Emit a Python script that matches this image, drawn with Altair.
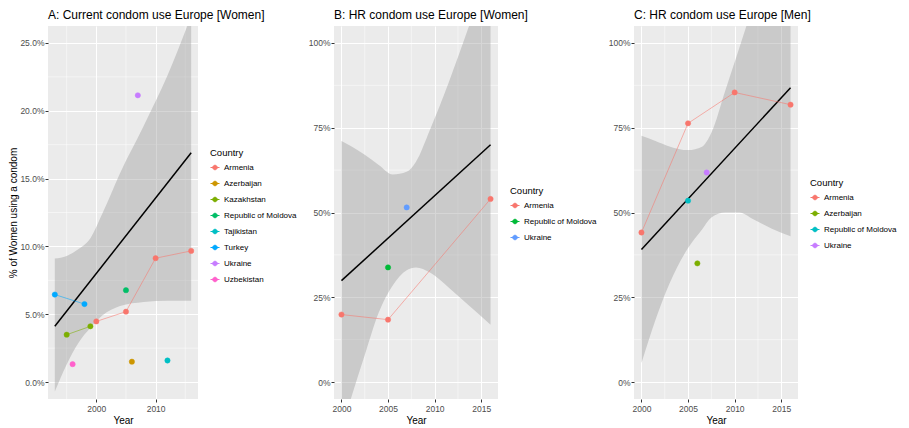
import altair as alt
import pandas as pd

FONT = "Liberation Sans"

# ---------------- Panel A: Current condom use Europe [Women] ----------------
a_country = ["Turkey", "Turkey", "Kazakhstan", "Kazakhstan", "Uzbekistan",
             "Armenia", "Armenia", "Armenia", "Armenia",
             "Republic of Moldova", "Azerbaijan", "Tajikistan", "Ukraine"]
a_year = [1993, 1998, 1995, 1999, 1996, 2000, 2005, 2010, 2016, 2005, 2006, 2012, 2007]
a_value = [0.0645, 0.0575, 0.0349, 0.0411, 0.0132, 0.0447, 0.0519, 0.0913, 0.0967,
           0.0677, 0.0150, 0.0159, 0.2114]
a_fit_year = [1993, 2016]
a_fit_value = [0.0412, 0.169]
a_band_year = [1993, 1995, 1997, 1999, 2001, 2004, 2008, 2012, 2016]
a_band_low = [-0.007, 0.013, 0.029, 0.040, 0.049, 0.056, 0.059, 0.060, 0.060]
a_band_high = [0.091, 0.093, 0.098, 0.106, 0.124, 0.154, 0.189, 0.226, 0.270]
a_countries = ["Armenia", "Azerbaijan", "Kazakhstan", "Republic of Moldova",
               "Tajikistan", "Turkey", "Ukraine", "Uzbekistan"]
a_colors = ["#F8766D", "#CD9600", "#7CAE00", "#00BE67", "#00BFC4", "#00A9FF",
            "#C77CFF", "#FF61CC"]

# ---------------- Panel B: HR condom use Europe [Women] ----------------
b_country = ["Armenia", "Armenia", "Armenia", "Republic of Moldova", "Ukraine"]
b_year = [2000, 2005, 2016, 2005, 2007]
b_value = [0.199, 0.184, 0.540, 0.338, 0.515]
b_fit_year = [2000, 2016]
b_fit_value = [0.299, 0.700]
b_band_year = [2000, 2001, 2002.5, 2004, 2005.5, 2007, 2008, 2009.5, 2011.5, 2013.5, 2016]
b_band_low = [-0.14, -0.05, 0.08, 0.205, 0.285, 0.330, 0.338, 0.323, 0.279, 0.230, 0.169]
b_band_high = [0.711, 0.696, 0.670, 0.640, 0.612, 0.620, 0.650, 0.744, 0.883, 1.035, 1.24]
b_countries = ["Armenia", "Republic of Moldova", "Ukraine"]
b_colors = ["#F8766D", "#00BA38", "#619CFF"]

# ---------------- Panel C: HR condom use Europe [Men] ----------------
c_country = ["Armenia", "Armenia", "Armenia", "Armenia", "Republic of Moldova",
             "Ukraine", "Azerbaijan"]
c_year = [2000, 2005, 2010, 2016, 2005, 2007, 2006]
c_value = [0.441, 0.763, 0.854, 0.818, 0.535, 0.618, 0.350]
c_fit_year = [2000, 2016]
c_fit_value = [0.391, 0.868]
c_band_year = [2000, 2001.5, 2003, 2005, 2006.5, 2007.5, 2009, 2010.5, 2012, 2014, 2016]
c_band_low = [0.056, 0.183, 0.290, 0.395, 0.450, 0.485, 0.500, 0.500, 0.480, 0.452, 0.430]
c_band_high = [0.726, 0.711, 0.695, 0.684, 0.694, 0.735, 0.860, 0.985, 1.11, 1.24, 1.37]
c_countries = ["Armenia", "Azerbaijan", "Republic of Moldova", "Ukraine"]
c_colors = ["#F8766D", "#7CAE00", "#00BFC4", "#C77CFF"]

LEGEND_PATH = "M-1,0L1,0M-0.5,0A0.5,0.5,0,1,1,0.5,0A0.5,0.5,0,1,1,-0.5,0Z"

W_A, W_BC, H = 150, 164, 373


def panel(country, year, value, fit_year, fit_value, band_year, band_low, band_high,
          countries, colors, xdom, ydom, xticks, xminor, yticks, yminor, yfmt,
          title, ytitle, width, legend_y):
    pts = pd.DataFrame({"Country": country, "Year": year, "Value": value})
    fit = pd.DataFrame({"Year": fit_year, "Value": fit_value})
    band = pd.DataFrame({"Year": band_year, "Lower": band_low, "Upper": band_high})
    mx = pd.DataFrame({"Year": xminor})
    my = pd.DataFrame({"Value": yminor})

    xs = alt.Scale(domain=xdom, nice=False, zero=False)
    ys = alt.Scale(domain=ydom, nice=False, zero=False)
    xax = alt.Axis(values=xticks, format="d", labelFlush=False, titlePadding=3, labelPadding=2)
    if ytitle:
        yax = alt.Axis(values=yticks, format=yfmt, titlePadding=1)
    else:
        yax = alt.Axis(values=yticks, format=yfmt)

    def X(field="Year"):
        return alt.X(f"{field}:Q", scale=xs, axis=xax, title="Year")

    def Y(field="Value"):
        return alt.Y(f"{field}:Q", scale=ys, axis=yax, title=ytitle)

    cscale = alt.Scale(domain=countries, range=colors)
    leg = alt.Legend(title="Country", orient="none", legendX=width + 12, legendY=legend_y,
                     symbolType=LEGEND_PATH, symbolSize=81, symbolStrokeWidth=1,
                     symbolOpacity=1,
                     titleFontSize=9.5, titleFont=FONT, titleFontWeight="normal",
                     titleColor="black", titlePadding=5, labelFontSize=8, labelFont=FONT,
                     labelColor="black", rowPadding=6, labelOffset=4)

    minor_x = alt.Chart(mx).mark_rule(color="white", strokeWidth=0.5).encode(x=X())
    minor_y = alt.Chart(my).mark_rule(color="white", strokeWidth=0.5).encode(y=Y())
    area = alt.Chart(band).mark_area(color="#999999", opacity=0.4, interpolate="monotone",
                                     clip=True).encode(
        x=X(), y=Y("Lower"), y2=alt.Y2("Upper:Q"))
    fitline = alt.Chart(fit).mark_line(color="black", strokeWidth=1.5, clip=True).encode(
        x=X(), y=Y())
    lines = alt.Chart(pts).mark_line(strokeWidth=1, strokeOpacity=0.55).encode(
        x=X(), y=Y(), detail="Country:N",
        stroke=alt.Stroke("Country:N", scale=cscale, legend=leg),
        order="Year:Q")
    points = alt.Chart(pts).mark_point(filled=True, size=28, opacity=1, strokeWidth=0.5).encode(
        x=X(), y=Y(),
        fill=alt.Fill("Country:N", scale=cscale, legend=leg),
        stroke=alt.Stroke("Country:N", scale=cscale, legend=leg))

    return alt.layer(minor_x, minor_y, area, fitline, lines, points).properties(
        width=width, height=H,
        title=alt.TitleParams(text=title, anchor="start", frame="group", fontSize=12,
                              font=FONT, fontWeight="normal", color="black", offset=4))


pa = panel(a_country, a_year, a_value, a_fit_year, a_fit_value, a_band_year, a_band_low,
           a_band_high, a_countries, a_colors, [1991.85, 2017.15], [-0.0125, 0.2625],
           [2000, 2010], [1995, 2005, 2015],
           [0, 0.05, 0.10, 0.15, 0.20, 0.25], [0.025, 0.075, 0.125, 0.175, 0.225], ".1%",
           "A: Current condom use Europe [Women]", "% of Women using a condom", W_A, 122)
pb = panel(b_country, b_year, b_value, b_fit_year, b_fit_value, b_band_year, b_band_low,
           b_band_high, b_countries, b_colors, [1999.2, 2016.8], [-0.05, 1.05],
           [2000, 2005, 2010, 2015], [2002.5, 2007.5, 2012.5],
           [0, 0.25, 0.5, 0.75, 1.0], [0.125, 0.375, 0.625, 0.875], ".0%",
           "B: HR condom use Europe [Women]", None, W_BC, 160)
pc = panel(c_country, c_year, c_value, c_fit_year, c_fit_value, c_band_year, c_band_low,
           c_band_high, c_countries, c_colors, [1999.2, 2016.8], [-0.05, 1.05],
           [2000, 2005, 2010, 2015], [2002.5, 2007.5, 2012.5],
           [0, 0.25, 0.5, 0.75, 1.0], [0.125, 0.375, 0.625, 0.875], ".0%",
           "C: HR condom use Europe [Men]", None, W_BC, 152)

chart = alt.hconcat(pa, pb, pc, spacing=11).resolve_scale(
    fill="independent", stroke="independent",
    x="independent", y="independent"
).resolve_legend(fill="independent", stroke="independent").properties(
    padding={"left": 0, "top": 0, "right": 0, "bottom": 0}, background="white"
).configure_view(fill="#EBEBEB", stroke=None).configure_axis(
    domain=False, tickColor="#333333", tickSize=3, tickWidth=1, labelColor="#4D4D4D",
    labelFontSize=8.5, labelFont=FONT, labelPadding=1, titleFont=FONT, titleFontSize=10,
    titleFontWeight="normal", titleColor="black", gridColor="white", gridWidth=1
)

chart.save("out.html", embed_options={"renderer": "svg", "actions": False})
